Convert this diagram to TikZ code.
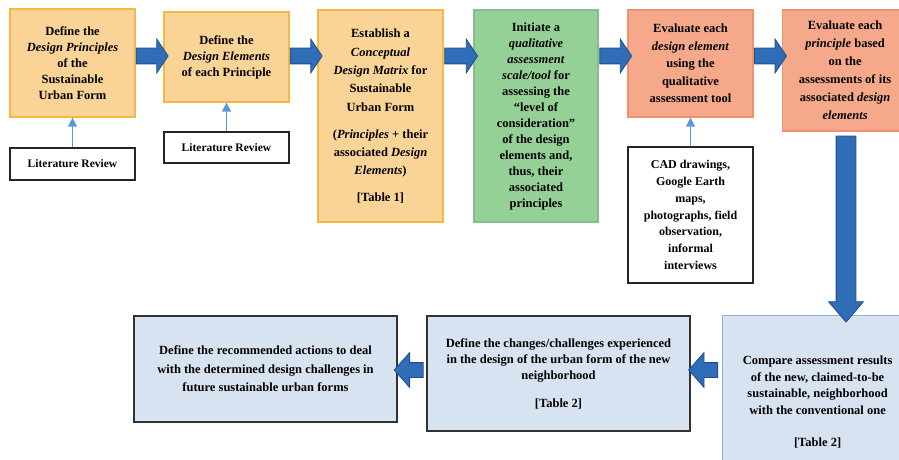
\documentclass[tikz,border=0pt]{standalone}
\usepackage{fontspec}
\setmainfont{Liberation Serif}
\usepackage{tikz}
\usetikzlibrary{positioning,calc,shapes.arrows,arrows.meta}
\definecolor{stepfill}{HTML}{FAD496}
\definecolor{stepline}{HTML}{F2BA45}
\definecolor{toolfill}{HTML}{95D197}
\definecolor{toolline}{HTML}{86C088}
\definecolor{evalfill}{HTML}{F6A98A}
\definecolor{evalline}{HTML}{EE916F}
\definecolor{resfill}{HTML}{D7E3F1}
\definecolor{resline}{HTML}{8DB4E0}
\definecolor{flowfill}{HTML}{2F6DB6}
\definecolor{flowline}{HTML}{1E4E8E}
\definecolor{feedline}{HTML}{5B9BD5}
\newcommand*{\fsz}[2]{\fontsize{#1}{#2}\selectfont\bfseries}

\begin{document}
\begin{tikzpicture}[x=1pt,y=-1pt,
  box/.style={rectangle,align=center,inner sep=2pt,line width=1.2pt,font=\fsz{12.5}{16}},
  orange/.style={box,fill=stepfill,draw=stepline},
  green/.style={box,fill=toolfill,draw=toolline},
  salmon/.style={box,fill=evalfill,draw=evalline},
  result/.style={box,fill=resfill,draw=black!80,line width=1.5pt},
  source/.style={box,fill=white,draw=black!85,line width=1.6pt},
  flow/.style={single arrow,fill=flowfill,draw=flowline,line width=0.8pt,
    single arrow head indent=0pt},
  feed/.style={draw=feedline,line width=1.3pt,-{Triangle[length=9pt,width=9pt]}}]
\useasboundingbox (0,0) rectangle (899,460);
\clip (0,0) rectangle (899,460);
% Top row of steps
\node[orange,minimum width=125pt,minimum height=108pt] (b1) at (72.5,63)
  {Define the\\ \textit{Design Principles}\\ of the\\ Sustainable\\ Urban Form};
\node[orange,minimum width=125pt,minimum height=90pt] (b2) at (226.5,57)
  {Define the\\ \textit{Design Elements}\\ of each Principle};
\node[orange,font=\fsz{12.5}{18.3},minimum width=125pt,minimum height=212pt] (b3) at (380.5,116)
  {Establish a\\ \textit{Conceptual}\\ \textit{Design Matrix} for\\ Sustainable\\ Urban Form\\[9pt]
   (\textit{Principles} + their\\ associated \textit{Design}\\ \textit{Elements})\\[8pt] {[Table 1]}};
\node[green,minimum width=124pt,minimum height=212pt] (b4) at (536,116)
  {Initiate a\\ \textit{qualitative}\\ \textit{assessment}\\ \textit{scale/tool} for\\ assessing the\\ “level of\\
   consideration”\\ of the design\\ elements and,\\ thus, their\\ associated\\ principles};
\node[salmon,font=\fsz{12.5}{17.5},minimum width=125pt,minimum height=107pt] (b5) at (690.5,63.5)
  {Evaluate each\\ \textit{design element}\\ using the\\ qualitative\\ assessment tool};
\node[salmon,font=\fsz{12.5}{18},minimum width=125pt,minimum height=121pt,anchor=west] (b6) at (782,70.5)
  {Evaluate each\\ \textit{principle} based\\ on the\\ assessments of its\\ associated \textit{design}\\ \textit{elements}};
% Inputs
\node[source,font=\fsz{11.5}{14},minimum width=125pt,minimum height=32pt] (lit1) at (72.5,164) {Literature Review};
\node[source,font=\fsz{11.5}{14},minimum width=125pt,minimum height=31pt] (lit2) at (226.5,147.5) {Literature Review};
\node[source,font=\fsz{12}{16.8},minimum width=125pt,minimum height=136pt] (data) at (690.5,215)
  {CAD drawings,\\ Google Earth\\ maps,\\ photographs, field\\ observation,\\ informal\\ interviews};
\draw[feed] (lit1.north) -- (b1.south);
\draw[feed] (lit2.north) -- (b2.south);
\draw[feed] (data.north) -- (b5.south);
% Bottom row
\node[result,draw=resline,line width=1.2pt,font=\fsz{12.5}{16.5},minimum width=190pt,minimum height=173pt,anchor=north west] (b7) at (722,315)
  {Compare assessment results\\ of the new, claimed-to-be\\ sustainable, neighborhood\\ with the conventional one\\[16pt] {[Table 2]}};
\node[result,minimum width=263pt,minimum height=115pt] (b8) at (558.5,373.5)
  {Define the changes/challenges experienced\\ in the design of the urban form of the new\\ neighborhood\\[12pt] {[Table 2]}};
\node[result,font=\fsz{12.5}{18.5},minimum width=263pt,minimum height=106pt] (b9) at (265.5,369)
  {Define the recommended actions to deal\\ with the determined design challenges in\\ future sustainable urban forms};
% Block arrows between steps
\coordinate (row) at (0,56);
\coordinate (low) at (0,370);
\coordinate (drop) at (846,0);
\node[flow,inner sep=7.5pt,minimum height=32pt,single arrow head extend=9pt,single arrow tip angle=112]
  (a1) at ($(b1.east |- row)!.5!(b2.west |- row)$) {};
\node[flow,inner sep=7.5pt,minimum height=32pt,single arrow head extend=9pt,single arrow tip angle=112]
  (a2) at ($(b2.east |- row)!.5!(b3.west |- row)$) {};
\node[flow,inner sep=7.5pt,minimum height=33pt,single arrow head extend=9pt,single arrow tip angle=112]
  (a3) at ($(b3.east |- row)!.5!(b4.west |- row)$) {};
\node[flow,inner sep=7.5pt,minimum height=32pt,single arrow head extend=9pt,single arrow tip angle=112]
  (a4) at ($(b4.east |- row)!.5!(b5.west |- row)$) {};
\node[flow,inner sep=7.5pt,minimum height=32pt,single arrow head extend=9pt,single arrow tip angle=112]
  (a5) at ($(b5.east |- row)!.5!(b6.west |- row)$) {};
\node[flow,rotate=-90,inner sep=9.5pt,minimum height=186pt,single arrow head extend=7.5pt,single arrow tip angle=81]
  (a6) at ($(b6.south -| drop)!.5!(b7.north -| drop)$) {};
\node[flow,rotate=180,inner sep=7pt,minimum height=29pt,single arrow head extend=10pt,single arrow tip angle=97]
  (a7) at ($(b7.west |- low)!.5!(b8.east |- low)$) {};
\node[flow,rotate=180,inner sep=7pt,minimum height=29pt,single arrow head extend=10pt,single arrow tip angle=97]
  (a8) at ($(b8.west |- low)!.5!(b9.east |- low)$) {};
\end{tikzpicture}
\end{document}
